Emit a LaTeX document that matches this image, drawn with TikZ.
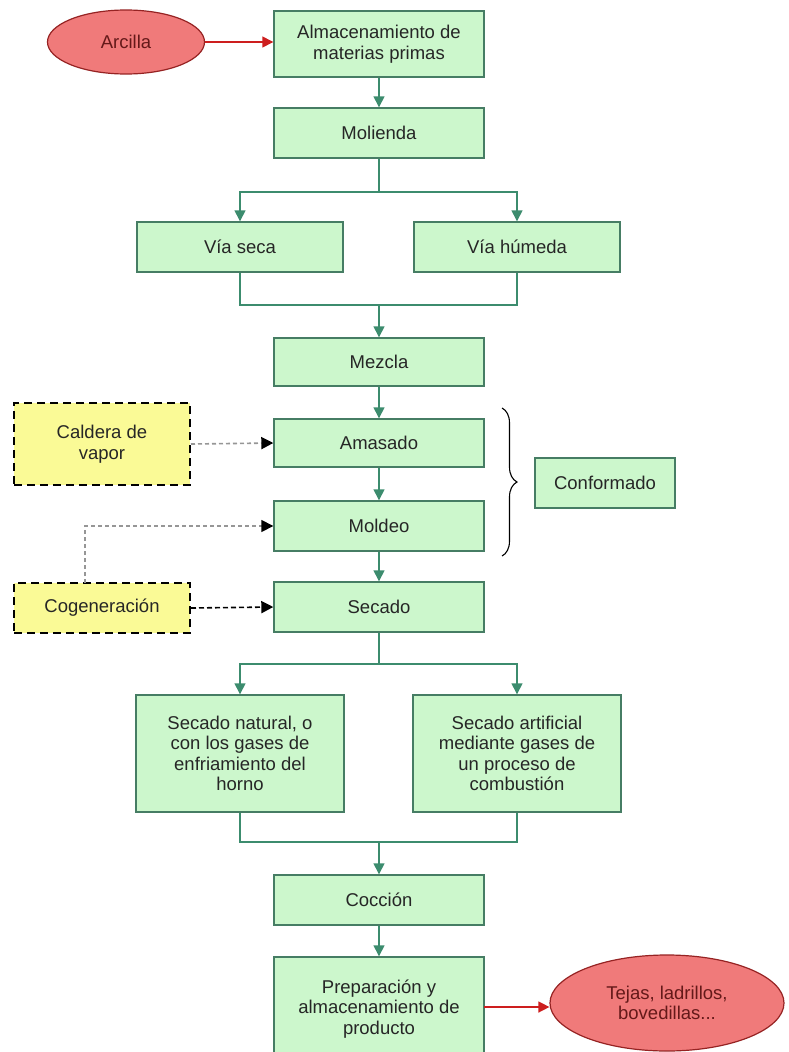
\documentclass[tikz,border=0pt]{standalone}
\usepackage{fontspec}
\setmainfont{Liberation Sans}
\usetikzlibrary{arrows.meta,shapes.geometric,decorations.pathreplacing}
\definecolor{boxfill}{RGB}{204,247,204}
\definecolor{boxline}{RGB}{70,125,100}
\definecolor{arrowc}{RGB}{60,140,110}
\definecolor{ellfill}{RGB}{240,122,122}
\definecolor{elline}{RGB}{150,35,35}
\definecolor{redarrow}{RGB}{205,30,30}
\definecolor{yelfill}{RGB}{250,250,150}
\definecolor{dashgray}{RGB}{150,150,150}
\definecolor{elltext}{RGB}{100,25,25}
\tikzset{
  procbox/.style={draw=boxline, fill=boxfill, line width=1.4pt, align=center, inner sep=0pt,
    font=\fontsize{18.5}{20.5}\selectfont, text=black!85},
  ellbox/.style={ellipse, draw=elline, fill=ellfill, line width=1.2pt, align=center, inner sep=0pt,
    font=\fontsize{18.5}{20.5}\selectfont, text=elltext},
  yelbox/.style={draw=black, fill=yelfill, line width=2pt, dash pattern=on 8pt off 5pt, align=center,
    inner sep=0pt, font=\fontsize{18.5}{20.5}\selectfont, text=black!85},
  flow/.style={draw=arrowc, line width=1.4pt, -{Triangle[length=11pt,width=11pt]}},
  flowline/.style={draw=arrowc, line width=1.4pt},
  redflow/.style={draw=redarrow, line width=1.4pt, -{Triangle[length=11pt,width=11pt]}},
  grayflow/.style={draw=dashgray, line width=1.6pt, dash pattern=on 4pt off 3pt, -{Triangle[length=12pt,width=12pt,black,sep=0pt]}},
  blackflow/.style={draw=black, line width=1.6pt, dash pattern=on 5pt off 3pt, -{Triangle[length=12pt,width=12pt,black]}},
}
\begin{document}
\begin{tikzpicture}[x=1pt,y=-1pt]
\useasboundingbox[fill=white] (0,0) rectangle (788,1052);
% main column
\node[procbox, minimum width=210pt, minimum height=66pt] (alm) at (379,44) {Almacenamiento de\\materias primas};
\node[procbox, minimum width=210pt, minimum height=50pt] (mol) at (379,133) {Molienda};
\node[procbox, minimum width=206pt, minimum height=50pt] (vseca) at (240,247) {Vía seca};
\node[procbox, minimum width=206pt, minimum height=50pt] (vhum) at (517,247) {Vía húmeda};
\node[procbox, minimum width=210pt, minimum height=48pt] (mez) at (379,362) {Mezcla};
\node[procbox, minimum width=210pt, minimum height=48pt] (ama) at (379,443) {Amasado};
\node[procbox, minimum width=210pt, minimum height=50pt] (mold) at (379,526) {Moldeo};
\node[procbox, minimum width=210pt, minimum height=50pt] (sec) at (379,607) {Secado};
\node[procbox, minimum width=208pt, minimum height=117pt] (snat) at (240,753.5) {Secado natural, o\\con los gases de\\enfriamiento del\\horno};
\node[procbox, minimum width=208pt, minimum height=117pt] (sart) at (517,753.5) {Secado artificial\\mediante gases de\\un proceso de\\combustión};
\node[procbox, minimum width=210pt, minimum height=50pt] (coc) at (379,900) {Cocción};
\node[procbox, minimum width=210pt, minimum height=104pt] (prep) at (379,1009) {Preparación y\\almacenamiento de\\producto};
\node[procbox, minimum width=140pt, minimum height=50pt] (conf) at (605,483) {Conformado};
% side boxes
\node[yelbox, minimum width=176pt, minimum height=82pt] (cald) at (102,444) {Caldera de\\vapor};
\node[yelbox, minimum width=176pt, minimum height=50pt] (cog) at (102,608) {Cogeneración};
% ellipses
\node[ellbox, minimum width=157pt, minimum height=64pt] (arc) at (126,42) {Arcilla};
\node[ellbox, minimum width=234pt, minimum height=96pt] (tej) at (667,1003) {Tejas, ladrillos,\\bovedillas...};
% coordinates
\coordinate (split1) at (379,192);
\coordinate (merge1) at (379,305);
\coordinate (split2) at (379,664);
\coordinate (merge2) at (379,842);
% connectors
\draw[redflow] (arc.east) -- (alm.west |- arc.east);
\draw[flow] (alm) -- (mol);
\draw[flowline] (mol.south) -- (split1);
\draw[flow] (split1) -| (vseca.north);
\draw[flow] (split1) -| (vhum.north);
\draw[flowline] (vseca.south) |- (merge1) -| (vhum.south);
\draw[flow] (merge1) -- (mez.north);
\draw[flow] (mez) -- (ama);
\draw[flow] (ama) -- (mold);
\draw[flow] (mold) -- (sec);
\draw[flowline] (sec.south) -- (split2);
\draw[flow] (split2) -| (snat.north);
\draw[flow] (split2) -| (sart.north);
\draw[flowline] (snat.south) |- (merge2) -| (sart.south);
\draw[flow] (merge2) -- (coc.north);
\draw[flow] (coc) -- (prep);
\coordinate (prepout) at (484,1007);
\draw[redflow] (prepout) -- (tej.west |- prepout);
% dashed feeds
\draw[grayflow] (cald.east) -- (ama.west);
\coordinate (cogtop) at (85,583);
\draw[grayflow] (cogtop) |- (mold.west);
\draw[blackflow] (cog.east) -- (sec.west);
% brace
\coordinate (btop) at (502,408);
\coordinate (bbot) at (502,556);
\draw[line width=1.1pt, decorate, decoration={brace, amplitude=15pt}] (btop) -- (bbot);
\end{tikzpicture}
\end{document}
